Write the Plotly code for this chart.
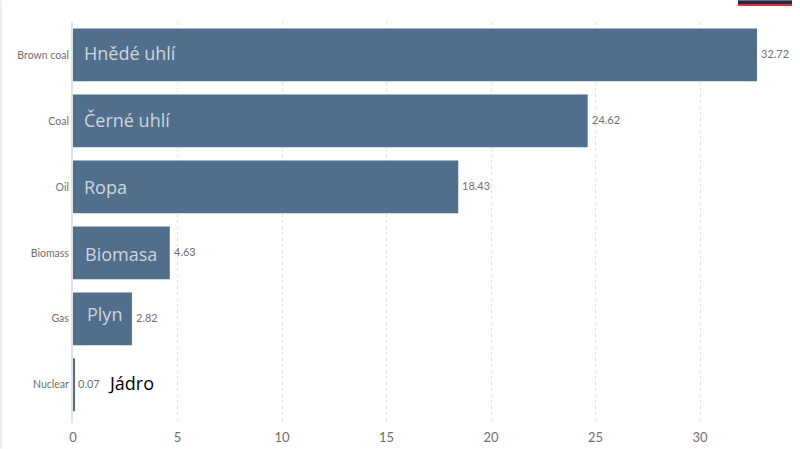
import plotly.graph_objects as go

sources = ["Brown coal", "Coal", "Oil", "Biomass", "Gas", "Nuclear"]
values = [32.72, 24.62, 18.43, 4.63, 2.82, 0.07]
value_labels = ["32.72", "24.62", "18.43", "4.63", "2.82", "0.07"]
czech_labels = ["Hnědé uhlí", "Černé uhlí", "Ropa", "Biomasa", "Plyn", "Jádro"]
czech_x = [0.42, 0.42, 0.45, 0.5, 0.56, 1.6]
czech_shift = [2, 1, 0, -1, 5, 2]
czech_colors = ["#d0d5da", "#d0d5da", "#d0d5da", "#d0d5da", "#d0d5da", "#000000"]
x_ticks = [0, 5, 10, 15, 20, 25, 30]

W, H = 800, 449
L, R, T, B = 73, 10, 21.5, 25.5
PW, PH = W - L - R, H - T - B

fig = go.Figure(go.Bar(
    y=sources, x=values, orientation="h",
    marker=dict(color="#4f6f8c", line=dict(width=0)),
    width=0.8,
    showlegend=False,
))

for name, value, label in zip(sources, values, value_labels):
    fig.add_annotation(x=value, y=name, xref="x", yref="y", text=label, showarrow=False,
                       xanchor="left", yanchor="middle", xshift=2, yshift=1.5,
                       font=dict(family="Lato", size=11, color="#707070"))

for name, label, x0, col, dy in zip(sources, czech_labels, czech_x, czech_colors, czech_shift):
    fig.add_annotation(x=x0, y=name, xref="x", yref="y", text=label, showarrow=False,
                       xanchor="left", yanchor="middle", yshift=dy,
                       font=dict(family="Open Sans", size=18, color=col))

# light strip at the image's left edge and the dark/red tab at its top right
fig.add_shape(type="rect", xref="paper", yref="paper", x0=-L/PW, x1=(2-L)/PW,
              y0=-B/PH, y1=(H-B)/PH, fillcolor="#eeeeee", line_width=0, layer="below")
fig.add_shape(type="rect", xref="paper", yref="paper", x0=(738-L)/PW, x1=(792-L)/PW,
              y0=(H-B-5.5)/PH, y1=(H-B)/PH, fillcolor="#d9333a", line_width=0)
fig.add_shape(type="rect", xref="paper", yref="paper", x0=(738-L)/PW, x1=(792-L)/PW,
              y0=(H-B-3.5)/PH, y1=(H-B)/PH, fillcolor="#1f2a4d", line_width=0)

fig.update_layout(
    width=W, height=H, autosize=False,
    margin=dict(l=L, r=R, t=T, b=B, pad=0, autoexpand=False),
    paper_bgcolor="#ffffff", plot_bgcolor="#ffffff",
    xaxis=dict(range=[0, 34.3], tickvals=x_ticks, showgrid=True, automargin=False,
               gridcolor="#e2e2e2", griddash="dot", gridwidth=1,
               zeroline=False, showline=False, ticks="", ticklabelstandoff=5,
               tickfont=dict(family="Lato", size=13, color="#6e6e6e")),
    yaxis=dict(type="category", categoryorder="array", categoryarray=sources[::-1],
               range=[-0.58, 5.5], showgrid=False, automargin=False,
               showline=True, linecolor="#e2e2e2", linewidth=2, ticks="", ticklen=0,
               tickfont=dict(family="Lato", size=10.5, color="#6e6e6e")),
)
fig.write_html("out.html", config=dict(displayModeBar=False),
               post_script="document.body.style.margin='0';document.body.style.overflow='hidden';")
